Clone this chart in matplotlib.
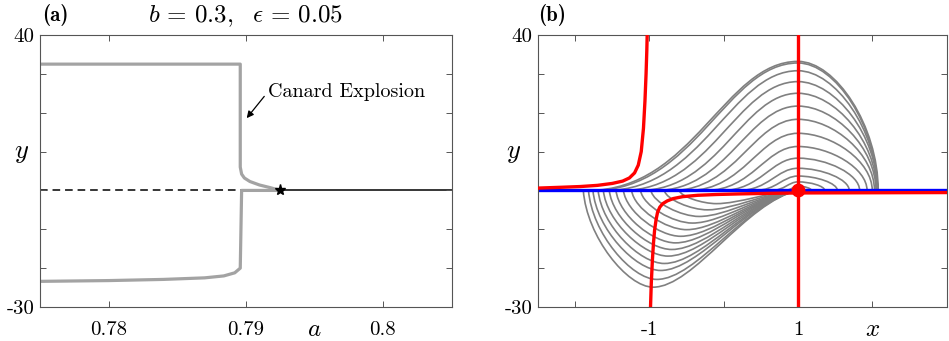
import matplotlib
matplotlib.use('Agg')
import matplotlib.pyplot as plt
from matplotlib.path import Path
from matplotlib.patches import PathPatch

plt.rcParams['mathtext.fontset'] = 'cm'
plt.rcParams['axes.unicode_minus'] = False

# ---------------- panel (a) data ----------------
a_upper = [0.775, 0.7896, 0.7896, 0.7897, 0.7899, 0.7903, 0.7910, 0.7918, 0.7925]
y_upper = [32.5, 32.5, 6.0, 4.2, 3.2, 2.3, 1.4, 0.7, 0.0]
a_lower = [0.775, 0.780, 0.784, 0.7870, 0.7884, 0.7892, 0.7896, 0.7897, 0.7925]
y_lower = [-23.4, -23.2, -22.9, -22.5, -22.0, -21.2, -20.0, 0.0, 0.0]
a_unstable = [0.775, 0.7925]
a_stable = [0.7925, 0.805]
eq_y = 0.0
hopf_a = 0.7925
a_ticks = [0.78, 0.79, 0.80]
a_ticklabels = ['0.78', '0.79', '0.8']
y_ticks = [-30, -20, -10, 0, 10, 20, 30, 40]

# ---------------- panel (b) data ----------------
red_left_x = [-2.5, -2.2, -1.93, -1.7, -1.5, -1.36, -1.27, -1.2, -1.15, -1.11, -1.08, -1.06, -1.045, -1.035, -1.03]
red_left_y = [0.6, 0.8, 1.0, 1.3, 1.8, 2.4, 3.2, 4.5, 6.5, 10.0, 16.0, 23.0, 30.0, 36.0, 40.0]
red_right_x = [-0.985, -0.975, -0.96, -0.945, -0.93, -0.91, -0.89, -0.86, -0.82, -0.76, -0.68, -0.55, -0.35, -0.1, 0.2, 0.6, 1.0, 2.0, 3.0]
red_right_y = [-30.0, -24.0, -18.0, -13.5, -10.2, -7.5, -5.6, -4.3, -3.4, -2.7, -2.1, -1.6, -1.25, -1.05, -0.9, -0.75, -0.65, -0.6, -0.55]
x_ticks = [-2, -1, 0, 1, 2]
x_ticklabels = ['', '-1', '', '1', '']

# upper arches (outer -> inner): left end, peak height at x=1, right end
arch_left = [-1.82, -1.76, -1.58, -1.36, -1.13, -0.91, -0.69, -0.47, -0.24, -0.02, 0.20, 0.42, 0.64, 0.82]
arch_peak = [33.2, 32.8, 30.8, 28.0, 25.0, 21.7, 18.3, 14.7, 11.3, 8.3, 5.7, 3.7, 2.2, 1.1]
arch_right = [2.08, 2.07, 2.07, 2.07, 2.06, 2.05, 2.03, 2.00, 1.93, 1.83, 1.69, 1.53, 1.36, 1.18]
arch_peak_x = 1.0

# lower troughs (outer -> inner): left end, x of minimum, depth
trough_left = [-1.89, -1.82, -1.76, -1.69, -1.62, -1.54, -1.45, -1.35, -1.24, -1.12, -0.98, -0.80, -0.60]
trough_min_x = [-0.95, -0.90, -0.85, -0.80, -0.75, -0.70, -0.65, -0.58, -0.50, -0.42, -0.33, -0.22, -0.10]
trough_depth = [-24.9, -22.9, -20.6, -18.8, -16.9, -15.2, -13.5, -11.8, -10.1, -8.4, -6.7, -5.0, -3.4]
trough_end = (1.0, 0.0)
eq_point = (1.0, 0.0)

GREY = '#808080'
SPINE = '#555555'
TICKFONT = dict(family='cmr10', size=15)


def arch_path(xl, h, xr, xp):
    verts = [(xl, 0), (xl + 0.5 * (xp - xl), 0), (xp - 0.35 * (xp - xl), h), (xp, h),
             (xp + 0.47 * (xr - xp), h), (xr, 0.5 * h), (xr, 0)]
    codes = [Path.MOVETO] + [Path.CURVE4] * 6
    return Path(verts, codes)


def trough_path(xl, xm, d, xe, ye):
    verts = [(xl, 0), (xl + 0.05 * (xm - xl), 0.48 * d), (xm - 0.37 * (xm - xl), d), (xm, d),
             (xm + 0.28 * (xe - xm), d), (xe - 0.36 * (xe - xm), 0.12 * d), (xe, ye)]
    codes = [Path.MOVETO] + [Path.CURVE4] * 6
    return Path(verts, codes)


def style_axes(ax):
    for s in ax.spines.values():
        s.set_color(SPINE)
        s.set_linewidth(0.8)
    ax.tick_params(direction='in', top=True, right=True, length=4, width=0.7,
                   color=SPINE, pad=4)
    ax.set_ylim(-30, 40)
    ax.set_yticks(y_ticks)
    ax.set_yticklabels(['-30', '', '', '', '', '', '', '40'], **TICKFONT)


fig = plt.figure(figsize=(9.49, 3.41), dpi=100)
axa = fig.add_axes([0.0421, 0.0997, 0.4337, 0.7977])
axb = fig.add_axes([0.5669, 0.0997, 0.4305, 0.7977])

# ---------------- panel (a) ----------------
axa.plot(a_upper, y_upper, color='#a3a3a3', lw=2.3, solid_capstyle='butt', zorder=2)
axa.plot(a_lower, y_lower, color='#a3a3a3', lw=2.3, solid_capstyle='butt', zorder=2)
axa.plot(a_unstable, [eq_y, eq_y], color='black', lw=1.1, dashes=(5.0, 3.2), zorder=1)
axa.plot(a_stable, [eq_y, eq_y], color='black', lw=1.1, zorder=1)
axa.plot([hopf_a], [eq_y], marker='*', color='black', ms=8, zorder=3)
axa.set_xlim(0.775, 0.805)
axa.set_xticks(a_ticks)
axa.set_xticklabels(a_ticklabels, **TICKFONT)
style_axes(axa)
axa.tick_params(axis='x', pad=10)
axa.text(0.795, -0.107, r'$a$', transform=axa.get_xaxis_transform(), ha='center', va='baseline', fontsize=18)
axa.text(-0.046, 10, r'$y$', transform=axa.get_yaxis_transform(), ha='center', va='center', fontsize=19)
axa.annotate('', xy=(0.79007, 18.6), xytext=(0.79135, 24.2),
             arrowprops=dict(arrowstyle='-|>', color='black', lw=0.9, mutation_scale=10,
                             shrinkA=0, shrinkB=0))
axa.text(0.7916, 25.4, 'Canard Explosion', family='cmr10', fontsize=14.5, ha='left', va='center')
axa.set_title(r'$b\,=\,0.3,\ \ \epsilon\,=\,0.05$', fontsize=18, pad=9)
fig.text(0.058, 0.955, '(a)', family='cmb10', fontsize=15, ha='center', va='center')

# ---------------- panel (b) ----------------
for xl, h, xr in zip(arch_left, arch_peak, arch_right):
    axb.add_patch(PathPatch(arch_path(xl, h, xr, arch_peak_x), facecolor='none',
                            edgecolor=GREY, lw=1.2, zorder=1))
for xl, xm, d in zip(trough_left, trough_min_x, trough_depth):
    axb.add_patch(PathPatch(trough_path(xl, xm, d, trough_end[0], trough_end[1]), facecolor='none',
                            edgecolor=GREY, lw=1.2, zorder=1))
axb.axhline(0.0, color='blue', lw=2.4, zorder=2)
axb.plot(red_left_x, red_left_y, color='red', lw=2.4, zorder=3)
axb.plot(red_right_x, red_right_y, color='red', lw=2.4, zorder=3)
axb.axvline(1.0, color='red', lw=2.4, zorder=3)
axb.plot([eq_point[0]], [eq_point[1]], 'o', color='red', ms=9, zorder=4)
axb.set_xlim(-2.5, 3.0)
axb.set_xticks(x_ticks)
axb.set_xticklabels(x_ticklabels, **TICKFONT)
style_axes(axb)
axb.tick_params(axis='x', pad=10)
axb.text(2.0, -0.107, r'$x$', transform=axb.get_xaxis_transform(), ha='center', va='baseline', fontsize=18)
axb.text(-0.061, 10, r'$y$', transform=axb.get_yaxis_transform(), ha='center', va='center', fontsize=19)
fig.text(0.582, 0.955, '(b)', family='cmb10', fontsize=15, ha='center', va='center')

fig.savefig('out.png', dpi=100)
